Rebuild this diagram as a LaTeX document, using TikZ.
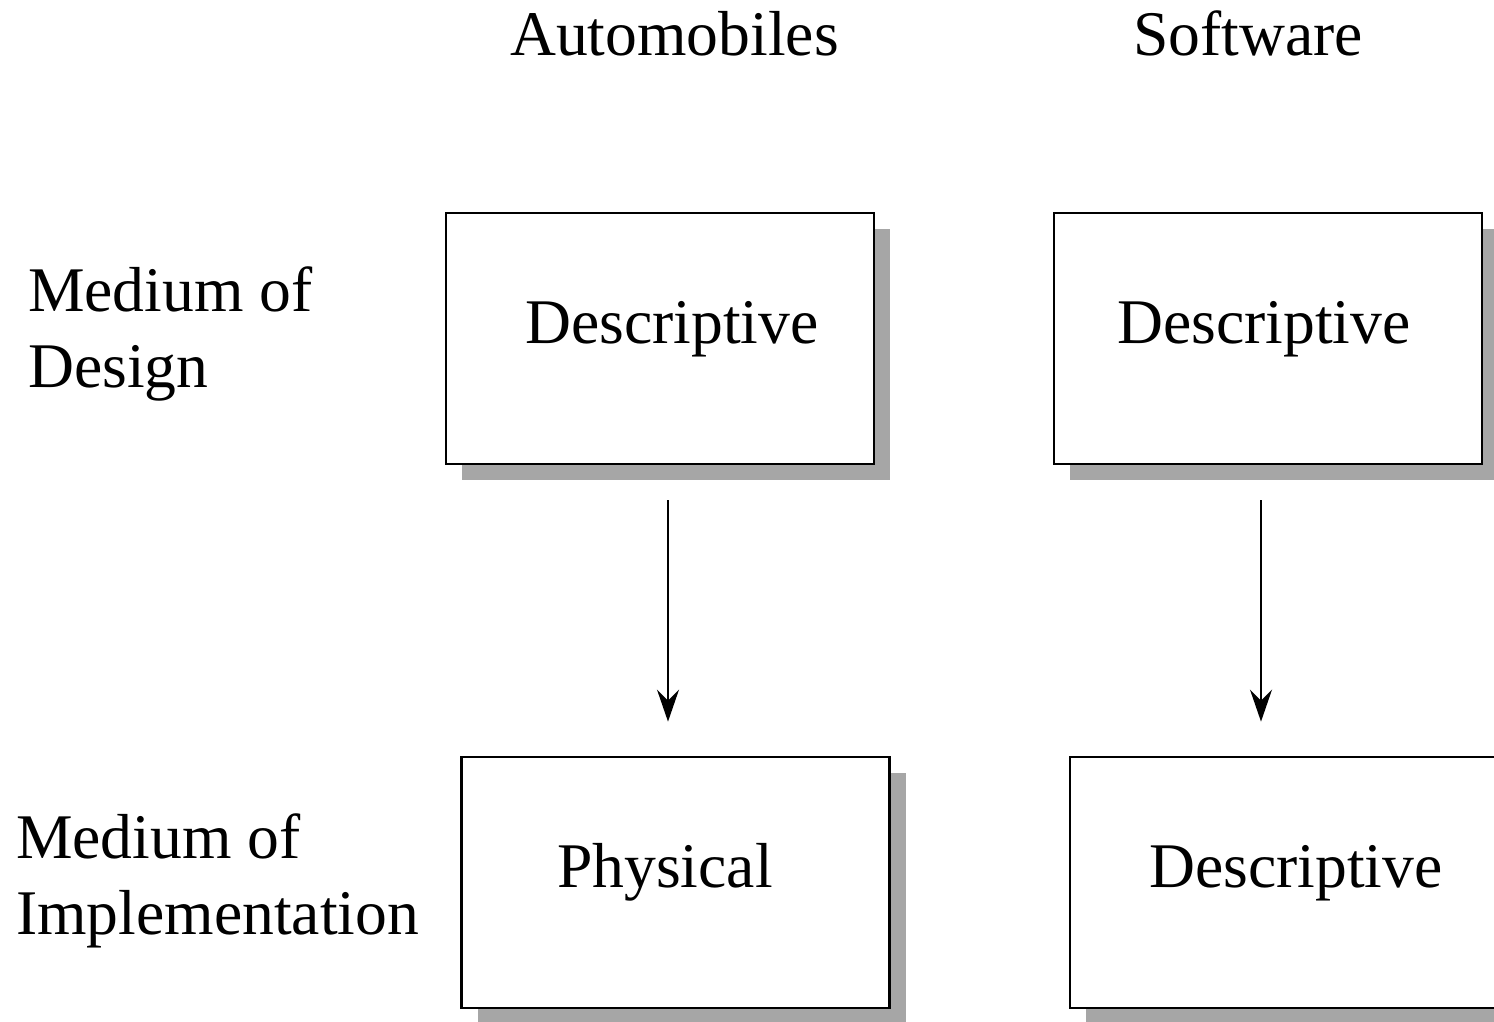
\documentclass[tikz,border=0pt]{standalone}
\usepackage{fontspec}
\setmainfont{Liberation Serif}
\usetikzlibrary{shadows,arrows.meta}
\begin{document}
\begin{tikzpicture}[x=1pt,y=-1pt,
  box/.style={draw, line width=2.8pt, fill=white, minimum width=428pt, minimum height=251pt,
    inner sep=0pt, drop shadow={shadow xshift=16pt, shadow yshift=-16pt, fill={rgb,255:red,166;green,166;blue,166}, opacity=1}},
  lbl/.style={anchor=base west, inner sep=0pt, font=\fontsize{63.6}{76}\selectfont},
  arr/.style={line width=2.4pt, -{Stealth[length=32pt, width=22pt, inset=11pt]}}]
\useasboundingbox (0,0) rectangle (1494,1021);
\fill[white] (0,0) rectangle (1494,1021);
\begin{scope}
\clip (0,0) rectangle (1494,1021);
\node[box] (b1) at (660,338.5) {};
\node[box] (b2) at (1268,338.5) {};
\node[box] (b3) at (675.5,882.5) {};
\node[box] (b4) at (1284,882.5) {};
\end{scope}
\node[lbl] (ta) at (510,55) {Automobiles};
\node[lbl] (ts) at (1133,55) {Software};
\node[lbl] (m1) at (28,311) {Medium of};
\node[lbl] (d1) at (28,387) {Design};
\node[lbl] (m2) at (16,858) {Medium of};
\node[lbl] (i2) at (16,934) {Implementation};
\node[lbl] (t1) at (525,343) {Descriptive};
\node[lbl] (t2) at (1117,343) {Descriptive};
\node[lbl] (t3) at (557,887) {Physical};
\node[lbl] (t4) at (1149,887) {Descriptive};
\draw[arr, shorten <=35pt, shorten >=34pt] ([xshift=8pt]b1.south) -- ([xshift=-7.5pt]b3.north);
\draw[arr, shorten <=35pt, shorten >=34pt] ([xshift=-7pt]b2.south) -- ([xshift=-23pt]b4.north);
\end{tikzpicture}
\end{document}
